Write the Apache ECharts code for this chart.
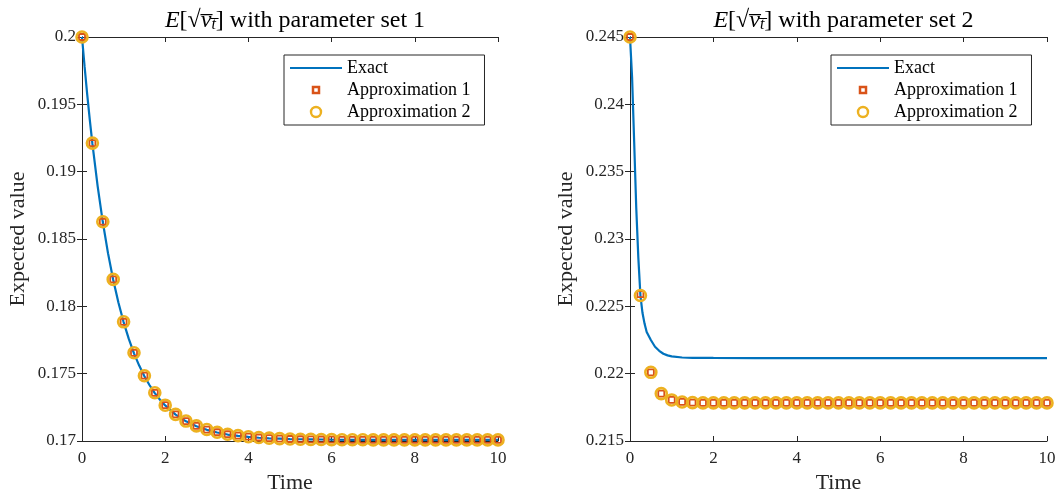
<!DOCTYPE html>
<html><head><meta charset="utf-8">
<script src="https://cdn.jsdelivr.net/npm/echarts@6/dist/echarts.min.js"></script>
<style>html,body{margin:0;padding:0;background:#fff}#c{width:1059px;height:495px}</style>
</head><body><div id="c"></div>
<script>
// ---------- data ----------
const titles = ['with parameter set 1', 'with parameter set 2'];
const legendNames = ['Exact', 'Approximation 1', 'Approximation 2'];
const xTicks = [0, 2, 4, 6, 8, 10];
const yTicks1 = [0.17, 0.175, 0.18, 0.185, 0.19, 0.195, 0.2];
const yTicks2 = [0.215, 0.22, 0.225, 0.23, 0.235, 0.24, 0.245];

// marker times (0 : 0.25 : 10)
const tMarks = [0,0.25,0.5,0.75,1,1.25,1.5,1.75,2,2.25,2.5,2.75,3,3.25,3.5,3.75,4,4.25,4.5,4.75,5,
  5.25,5.5,5.75,6,6.25,6.5,6.75,7,7.25,7.5,7.75,8,8.25,8.5,8.75,9,9.25,9.5,9.75,10];

// parameter set 1
const exactT1 = [0,0.0625,0.125,0.1875,0.25,0.375,0.5,0.625,0.75,0.875,1,1.125,1.25,1.375,1.5,1.625,1.75,1.875,2,
  2.25,2.5,2.75,3,3.25,3.5,3.75,4,4.25,4.5,4.75,5,5.25,5.5,5.75,6,6.5,7,8,9,10];
const exactV1 = [0.2,0.19780,0.19574,0.19385,0.19208,0.18895,0.18626,0.18395,0.18198,0.18028,0.17883,0.17758,0.17651,
  0.1756,0.17481,0.17414,0.17356,0.17306,0.17264,0.17196,0.17146,0.1711,0.17083,0.17063,0.17048,
  0.17038,0.1703,0.17024,0.1702,0.17017,0.17014,0.17013,0.17012,0.17011,0.1701,0.17009,0.17009,
  0.17008,0.17008,0.17008];
const approx1V1 = [0.2,0.19212,0.18628,0.182,0.17885,0.17655,0.17485,0.17358,0.17266,0.17198,0.17148,
  0.17112,0.17085,0.17065,0.1705,0.1704,0.17032,0.17026,0.17021,0.17018,0.17015,0.17013,0.17012,
  0.17011,0.1701,0.17009,0.17009,0.17009,0.17008,0.17008,0.17008,0.17008,0.17008,0.17008,0.17008,
  0.17008,0.17008,0.17008,0.17008,0.17008,0.17008];
const approx2V1 = [0.2,0.19212,0.18628,0.182,0.17885,0.17655,0.17485,0.17358,0.17266,0.17198,0.17148,
  0.17112,0.17085,0.17065,0.1705,0.1704,0.17032,0.17026,0.17021,0.17018,0.17015,0.17013,0.17012,
  0.17011,0.1701,0.17009,0.17009,0.17009,0.17008,0.17008,0.17008,0.17008,0.17008,0.17008,0.17008,
  0.17008,0.17008,0.17008,0.17008,0.17008,0.17008];

// parameter set 2
const exactT2 = [0,0.05,0.1,0.15,0.2,0.25,0.3,0.35,0.4,0.5,0.6,0.7,0.8,0.9,1,1.25,1.5,2,3,4,6,8,10];
const exactV2 = [0.245,0.242,0.2372,0.2323,0.2286,0.2258,0.2245,0.2237,0.2231,0.2225,0.222,0.2217,
  0.22148,0.22136,0.22128,0.2212,0.22118,0.22117,0.22116,0.22116,0.22116,0.22116,0.22116];
const approx1V2 = [0.245,0.2259,0.2201,0.21852,0.21805,0.2179,0.21785,0.21783,0.21783,0.21783,0.21783,
  0.21783,0.21783,0.21783,0.21783,0.21783,0.21783,0.21783,0.21783,0.21783,0.21783,0.21783,0.21783,
  0.21783,0.21783,0.21783,0.21783,0.21783,0.21783,0.21783,0.21783,0.21783,0.21783,0.21783,0.21783,
  0.21783,0.21783,0.21783,0.21783,0.21783,0.21783];
const approx2V2 = [0.245,0.2258,0.2201,0.21852,0.21805,0.2179,0.21785,0.21783,0.21783,0.21783,0.21783,
  0.21783,0.21783,0.21783,0.21783,0.21783,0.21783,0.21783,0.21783,0.21783,0.21783,0.21783,0.21783,
  0.21783,0.21783,0.21783,0.21783,0.21783,0.21783,0.21783,0.21783,0.21783,0.21783,0.21783,0.21783,
  0.21783,0.21783,0.21783,0.21783,0.21783,0.21783];

// ---------- chart ----------
const FONT = '"Liberation Serif", "DejaVu Serif", serif';
const AX = '#262626';
const C_EXACT = '#0072BD', C_A1 = '#D95319', C_A2 = '#EDB120';
const zip = (a, b) => a.map((v, i) => [v, b[i]]);
const fmt = v => String(parseFloat(v.toFixed(4)));

const grids = [
  { left: 82, top: 37, width: 416, height: 404, outerBoundsMode: 'none', containLabel: false },
  { left: 630, top: 37, width: 417, height: 404, outerBoundsMode: 'none', containLabel: false }
];
const yRanges = [[0.17, 0.2], [0.215, 0.245]];

const xAxis = [], yAxis = [], series = [], title = [], legend = [];
grids.forEach((g, gi) => {
  const base = {
    gridIndex: gi, type: 'value', min: 0, max: 10, interval: 2,
    axisLine: { show: true, lineStyle: { color: AX, width: 1 } },
    axisTick: { show: true, inside: true, length: 5, lineStyle: { color: AX } },
    splitLine: { show: false }
  };
  xAxis.push(Object.assign({}, base, {
    position: 'bottom', name: 'Time', nameLocation: 'middle', nameGap: 31,
    nameTextStyle: { fontFamily: FONT, fontSize: 22, color: AX },
    axisLabel: { fontFamily: FONT, fontSize: 17, color: AX, margin: 9 }
  }));
  xAxis.push(Object.assign({}, base, { position: 'top', axisLabel: { show: false } }));
  const yb = {
    gridIndex: gi, type: 'value', min: yRanges[gi][0], max: yRanges[gi][1], interval: 0.005,
    axisLine: { show: true, lineStyle: { color: AX, width: 1 } },
    axisTick: { show: true, inside: true, length: 5, lineStyle: { color: AX } },
    splitLine: { show: false }
  };
  yAxis.push(Object.assign({}, yb, {
    position: 'left', name: 'Expected value', nameLocation: 'middle', nameGap: 53,
    nameTextStyle: { fontFamily: FONT, fontSize: 22, color: AX },
    axisLabel: { fontFamily: FONT, fontSize: 17, color: AX, margin: 6, formatter: fmt }
  }));
  yAxis.push(Object.assign({}, yb, { position: 'right', axisLabel: { show: false } }));

  const xi = gi * 2, yi = gi * 2;
  const eT = gi === 0 ? exactT1 : exactT2, eV = gi === 0 ? exactV1 : exactV2;
  const a1 = gi === 0 ? approx1V1 : approx1V2, a2 = gi === 0 ? approx2V1 : approx2V2;
  series.push({
    name: legendNames[0], type: 'line', xAxisIndex: xi, yAxisIndex: yi,
    data: zip(eT, eV), smooth: false, symbol: 'none',
    lineStyle: { color: C_EXACT, width: 2.2 }, itemStyle: { color: C_EXACT }, z: 2
  });
  series.push({
    name: legendNames[1], type: 'scatter', xAxisIndex: xi, yAxisIndex: yi,
    data: zip(tMarks, a1), symbol: 'rect', symbolSize: 6,
    itemStyle: { color: 'rgba(255,255,255,0)', borderColor: C_A1, borderWidth: 1.8, opacity: 1 }, z: 3
  });
  series.push({
    name: legendNames[2], type: 'scatter', xAxisIndex: xi, yAxisIndex: yi,
    data: zip(tMarks, a2), symbol: 'circle', symbolSize: 11,
    itemStyle: { color: 'rgba(255,255,255,0)', borderColor: C_A2, borderWidth: 2.6, opacity: 1 }, z: 4
  });

  title.push({
    text: '{i|E}[{r|√}{o|v̅}{s|t̅}] ' + titles[gi],
    left: g.left + g.width / 2, top: 3, textAlign: 'center',
    textStyle: {
      fontFamily: FONT, fontSize: 24, fontWeight: 'normal', color: '#000',
      rich: {
        i: { fontFamily: FONT, fontSize: 24, fontStyle: 'italic', color: '#000' },
        r: { fontFamily: FONT, fontSize: 24, color: '#000' },
        o: { fontFamily: FONT, fontSize: 24, fontStyle: 'italic', color: '#000' },
        s: { fontFamily: FONT, fontSize: 16, fontStyle: 'italic', color: '#000', verticalAlign: 'bottom', padding: [9, 0, 0, 0] }
      }
    }
  });

  legend.push({
    orient: 'vertical', left: gi === 0 ? 284 : 831, top: 55,
    backgroundColor: '#fff', borderColor: AX, borderWidth: 1, borderRadius: 0,
    padding: [4, 14, 4, 6], itemGap: 4, itemWidth: 52, itemHeight: 10,
    textStyle: { fontFamily: FONT, fontSize: 18, color: '#000' },
    data: [
      { name: legendNames[0], icon: 'path://M0,0L52,0L52,2.2L0,2.2Z',
        itemStyle: { color: C_EXACT, borderWidth: 0 } },
      { name: legendNames[1], icon: 'path://M0,0L0,0M10,10L10,10M2,2L8,2L8,8L2,8Z',
        itemStyle: { color: 'rgba(255,255,255,0)', borderColor: C_A1, borderWidth: 2.5 } },
      { name: legendNames[2], icon: 'circle',
        itemStyle: { color: 'rgba(255,255,255,0)', borderColor: C_A2, borderWidth: 2.4 } }
    ]
  });
});

const chart = echarts.init(document.getElementById('c'), null, { renderer: 'canvas' });
chart.setOption({
  animation: false, backgroundColor: '#fff',
  title, legend, grid: grids, xAxis, yAxis, series
});
</script></body></html>
